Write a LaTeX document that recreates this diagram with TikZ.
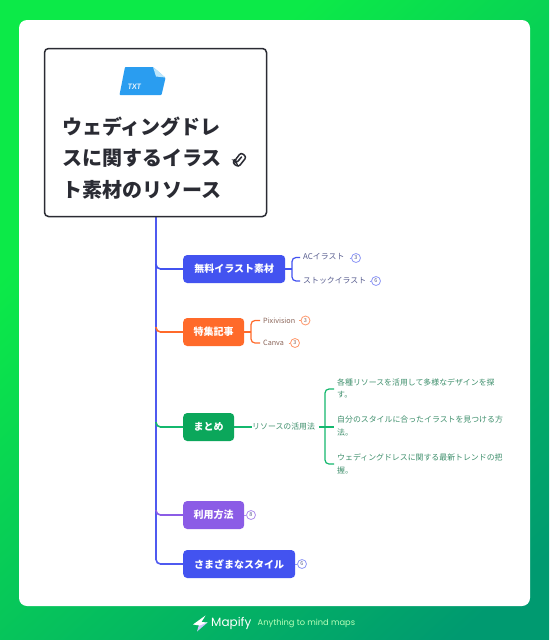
\documentclass[tikz,border=0pt]{standalone}
\usepackage{fontspec}
\setmainfont{Noto Sans CJK JP}
\newfontfamily\lat{Poppins}
\newfontfamily\latb{Lato}
\definecolor{blueb}{HTML}{4353F0}
\definecolor{trunkc}{HTML}{4F5AF0}
\definecolor{orangeb}{HTML}{FF6A2A}
\definecolor{greenb}{HTML}{0BA75B}
\definecolor{greenw}{HTML}{14B86E}
\definecolor{purpleb}{HTML}{8B5CE6}
\definecolor{bluet}{HTML}{565B8E}
\definecolor{oranget}{HTML}{8A6458}
\definecolor{greent}{HTML}{3E8F6C}
\definecolor{bgA}{HTML}{0CEA48}
\definecolor{bgB}{HTML}{009A70}
\definecolor{rootc}{HTML}{2A2B33}
\definecolor{iconc}{HTML}{2A9DF0}
\definecolor{iconl}{HTML}{BDE6FB}
\definecolor{boltl}{HTML}{C9C6FA}
\pgfdeclareverticalshading{bgshade}{100bp}{color(0bp)=(bgB);color(20bp)=(bgB);color(68bp)=(bgA);color(100bp)=(bgA)}
\tikzset{
 x=1pt,y=-1pt,
 topic/.style={rounded corners=4pt,text=white,font=\fontsize{10}{12}\selectfont\bfseries,minimum height=28pt,inner sep=0pt,anchor=west},
 leaf/.style={font=\fontsize{7.9}{11}\selectfont,anchor=west,inner sep=0pt},
 latleaf/.style={leaf,font=\fontsize{7.2}{11}\selectfont},
 badge/.style={circle,draw,fill=white,line width=.8pt,minimum size=9pt,inner sep=0pt,font=\fontsize{5.5}{5.5}\selectfont},
 wire/.style={line width=1.6pt,rounded corners=4.5pt},
 thin wire/.style={line width=1.2pt,rounded corners=4pt},
 tick/.style={line width=.9pt},
}
\begin{document}
\begin{tikzpicture}
\useasboundingbox (0,0) rectangle (549,640);
\shade[shading=bgshade,shading angle=42] (0,0) rectangle (549,640);
\fill[white,rounded corners=8pt] (19,20) rectangle (530,606);
% trunk and branches
\coordinate (trunkTop) at (156,217);
\node[topic,fill=blueb,minimum width=102pt] (t1) at (183,269) {無料イラスト素材};
\node[topic,fill=orangeb,minimum width=61pt] (t2) at (183,332) {特集記事};
\node[topic,fill=greenb,minimum width=51pt] (t3) at (183,427) {まとめ};
\node[topic,fill=purpleb,minimum width=61pt] (t4) at (183,515) {利用方法};
\node[topic,fill=blueb,minimum width=112pt] (t5) at (183,564) {さまざまなスタイル};
\draw[wire,trunkc] (trunkTop) -- (156,564) -- (t5.west);
\draw[wire,blueb] (156,264) |- (t1.west);
\draw[wire,orangeb] (156,327) |- (t2.west);
\draw[wire,greenw] (156,422) |- (t3.west);
\draw[wire,purpleb] (156,510) |- (t4.west);
% root
\node[draw=rootc,line width=1.5pt,fill=white,rounded corners=4pt,outer sep=0pt,minimum width=222pt,minimum height=168pt,anchor=north west,inner sep=0pt] (root) at (44.5,48.5) {};
\foreach \t/\y in {ウェディングドレ/126.5,スに関するイラス/158,ト素材のリソース/189.5}
  \node[anchor=west,inner sep=0pt,text=rootc,font=\fontsize{20}{24}\selectfont\bfseries] at (62,\y) {\t};
% icon
\fill[iconc,rounded corners=.8pt] (125,67) -- (153,67) -- (165.5,78) -- (161.5,95) -- (119.5,95) -- cycle;
\fill[iconl] (153,67) -- (165.5,77.5) -- (156,76.5) -- cycle;
\node[text=white!90!iconc,inner sep=0pt,font=\latb\fontsize{7.5}{8}\selectfont\bfseries\itshape] (txt) at (134.5,87) {TXT};
% paperclip
\draw[rootc,line width=1.5pt,line cap=round,rounded corners=2.6pt] (241.5,157) -- (236.5,163) -- (234.5,161) -- (241,152.5) -- (246.5,157) -- (238.5,167) -- (232.5,163) -- (234.5,159.5);
% blue children
\node[leaf,text=bluet] (a1) at (303,257) {ACイラスト};
\node[leaf,text=bluet] (a2) at (303,281) {ストックイラスト};
\node[badge,draw=blueb!60,text=bluet] (b1) at (356,258) {3};
\node[badge,draw=blueb!60,text=bluet] (b2) at (376,281) {6};
\draw[thin wire,blueb] (t1.east) -- (292,269);
\draw[thin wire,blueb] (300,257.5) -| (292,281) -- (300,281);
\draw[tick,blueb!60] (349.5,258) -- (b1.west);
\draw[tick,blueb!60] (369.5,281) -- (b2.west);
% orange children
\node[latleaf,text=oranget] (o1) at (263,320.5) {Pixivision};
\node[latleaf,text=oranget] (o2) at (263,343) {Canva};
\node[badge,draw=orangeb!70,text=oranget] (b3) at (305.5,320.5) {3};
\node[badge,draw=orangeb!70,text=oranget] (b4) at (295,343) {3};
\draw[thin wire,orangeb] (t2.east) -- (251,332);
\draw[thin wire,orangeb] (260,320.5) -| (251,343) -- (260,343);
\draw[tick,orangeb!70] (299,320.5) -- (b3.west);
\draw[tick,orangeb!70] (288.5,343) -- (b4.west);
% green children
\node[leaf,text=greent] (g0) at (252,427) {リソースの活用法};
\draw[thin wire,greenw] (t3.east) -- (g0.west);
\draw[thin wire,greenw] (319,427) -- (334,427);
\draw[thin wire,greenw] (334,389) -| (325,464) -- (334,464);
\foreach \t/\y in {各種リソースを活用して多様なデザインを探/382.5,す。/395,自分のスタイルに合ったイラストを見つける方/419.5,法。/432,ウェディングドレスに関する最新トレンドの把/457,握。/470}
  \node[leaf,text=greent] at (337,\y) {\t};
% badges on topics
\node[badge,draw=purpleb!70,text=bluet] (b5) at (251,515) {8};
\node[badge,draw=blueb!60,text=bluet] (b6) at (302,564) {6};
\draw[tick,purpleb!70] (t4.east) -- (b5.west);
\draw[tick,blueb!60] (t5.east) -- (b6.west);
% footer
\fill[boltl] (207.5,622.5) -- (199,624.5) -- (197,631.5) -- cycle;
\fill[white] (205.5,615.5) -- (193,624.5) -- (199.5,625.5) -- (207.5,622.5) -- (201.5,622) -- cycle;
\node[anchor=west,inner sep=0pt,text=white,font=\lat\fontsize{12}{13}\selectfont] (brand) at (211,623) {Mapify};
\node[anchor=west,inner sep=0pt,text=white!72!green,font=\lat\fontsize{8.3}{10}\selectfont] (tag) at (257.5,623.5) {Anything to mind maps};
\end{tikzpicture}
\end{document}
